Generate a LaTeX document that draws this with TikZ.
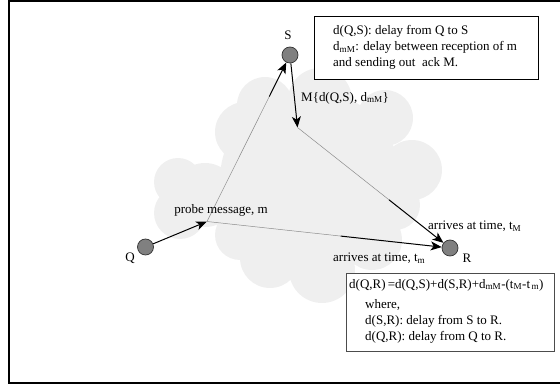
\documentclass[tikz,border=0pt]{standalone}
\usepackage{fontspec}
\setmainfont{Liberation Serif}
\usetikzlibrary{arrows.meta,calc}
\definecolor{cloudgray}{HTML}{EFEFEF}
\definecolor{dotgray}{HTML}{808080}
\begin{document}
\begin{tikzpicture}[x=1pt,y=-1pt,
  every node/.style={font=\fontsize{13}{16}\selectfont, inner sep=0pt},
  dot/.style={circle, draw=black!80, line width=0.7pt, fill=dotgray, minimum size=16pt},
  arr/.style={line width=1pt, -{Stealth[length=11pt,width=9pt,inset=3pt]}},
  thinline/.style={draw=black!45, line width=0.5pt},
  lbl/.style={anchor=west},
  infobox/.style={draw, fill=white, anchor=north west, line width=0.8pt}]
\useasboundingbox (0,0) rectangle (560,387);
\clip (0,0) rectangle (560,387);
% frame
\draw[line width=1.6pt] (9,1) rectangle (575,383);
% cloud
\fill[cloudgray]
  (178,182) circle (24) (180,213) circle (26) (205,195) circle (32)
  (245,132) circle (30) (265,105) circle (28) (320,100) circle (32)
  (385,118) circle (28) (412,170) circle (30) (395,205) circle (25)
  (310,180) circle (90) (270,258) circle (30) (322,270) circle (33)
  (372,240) circle (30) (240,235) circle (25);
% nodes
\node[dot] (S) at (290,55) {};
\node[dot] (Q) at (145.5,247) {};
\node[dot] (R) at (450,248) {};
\node (Sl) at (288,35) {S};
\node (Ql) at (130,258) {Q};
\node (Rl) at (467,258) {R};
\coordinate (m) at (207,221.5);
\coordinate (k) at (297.5,127.5);
\coordinate (a1) at ($(m)!0.75!(S)$);
\coordinate (a2) at ($(k)!0.6!(R)$);
\coordinate (a3) at ($(m)!0.55!(R)$);
% connectors
\draw[arr] (Q) -- (m);
\draw[thinline] (m) -- (a1);
\draw[arr] (a1) -- (S);
\draw[arr] (S) -- (k);
\draw[thinline] (k) -- (a2);
\draw[arr] (a2) -- (R);
\draw[thinline] (m) -- (a3);
\draw[arr] (a3) -- (R);
% labels
\node (pm) at (221,210) {probe message, m};
\node[lbl] (ack) at (301,98) {M\{d(Q,S), d\textsubscript{mM}\}};
\node[lbl] (tM) at (428,226) {arrives at time, t\textsubscript{M}};
\node[lbl] (tm) at (333,258) {arrives at time, t\textsubscript{m}};
% top box
\node[infobox, minimum width=224pt, minimum height=63pt] (tb) at (314,16) {};
\node[anchor=north west, align=left] (tbt) at (333,25)
  {d(Q,S): delay from Q to S\\
   d\textsubscript{mM}: delay between reception of m\\
   and sending out\ \ ack M.};
% bottom box
\node[infobox, draw=black!70, minimum width=208pt, minimum height=78pt] (bb) at (346,273) {};
\node[lbl] (eq) at (349,285) {d(Q,R)\,=d(Q,S)+d(S,R)+d\textsubscript{mM}-(t\textsubscript{M}-t\textsubscript{\,m})};
\node[anchor=north west, align=left] (bbt) at (365,299)
  {where,\\ d(S,R): delay from S to R.\\ d(Q,R): delay from Q to R.};
\end{tikzpicture}
\end{document}
